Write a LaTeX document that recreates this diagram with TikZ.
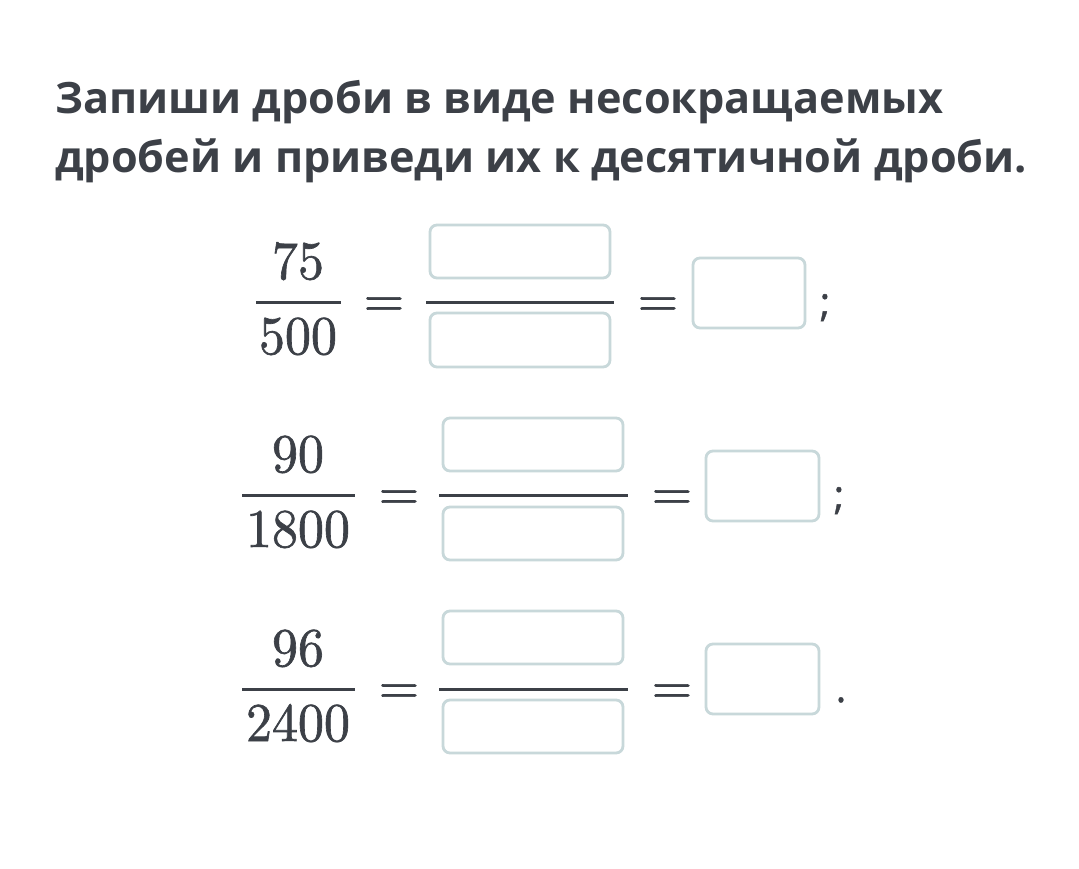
\documentclass[tikz,border=0pt]{standalone}
\usepackage{fontspec}
\setmainfont{Open Sans}
\newfontfamily\titlefont{Open Sans}
\newfontfamily\digitfont[Extension=.otf,FakeBold=1.2]{lmroman10-regular}
\newfontfamily\punctfont[FakeBold=1.0]{Open Sans}
\definecolor{ink}{HTML}{3C4047}
\definecolor{boxline}{HTML}{C8D8DA}
\begin{document}
\begin{tikzpicture}[x=1pt,y=-1pt,
  title/.style={anchor=base west,inner sep=0pt,font=\titlefont\bfseries\fontsize{43.2}{50}\selectfont,text=ink},
  num/.style={anchor=base,inner sep=0pt,font=\digitfont\fontsize{52}{60}\selectfont,text=ink},
  ansbox/.style={draw=boxline,line width=2.8pt,rounded corners=7pt,fill=white},
  bar/.style={draw=ink,line width=3.2pt},
  punct/.style={anchor=base,inner sep=0pt,font=\punctfont\fontsize{40}{46}\selectfont,text=ink}]
\useasboundingbox[fill=white] (0,0) rectangle (1079,868);
\node[title] (t1) at (55,113) {Запиши дроби в виде несокращаемых};
\node[title] (t2) at (55,172) {дробей и приведи их к десятичной дроби.};
% row 1
\node[num] (n1) at (298,279) {\scalebox{1}[1.05]{75}};
\node[num] (d1) at (298,354) {\scalebox{1}[1.05]{500}};
\coordinate (b1l) at (256,302.5); \coordinate (b1r) at (341,302.5);
\draw[bar] (b1l) -- (b1r);
\node[num] (e1a) at (384,316.5) {=};
\draw[ansbox] (430,225) rectangle (610,278) coordinate (bn1);
\draw[ansbox] (430,313) rectangle (610,367) coordinate (bd1);
\coordinate (f1l) at (426,302.5); \coordinate (f1r) at (614,302.5);
\draw[bar] (f1l) -- (f1r);
\node[num] (e1b) at (658,316.5) {=};
\draw[ansbox] (693,258) rectangle (805,328) coordinate (a1);
\node[punct] (p1) at (825,316) {;};
% row 2
\node[num] (n2) at (298,472) {\scalebox{1}[1.05]{90}};
\node[num] (d2) at (298,547) {\scalebox{1}[1.05]{1800}};
\coordinate (b2l) at (242,495.5); \coordinate (b2r) at (355,495.5);
\draw[bar] (b2l) -- (b2r);
\node[num] (e2a) at (399,509.5) {=};
\draw[ansbox] (443,418) rectangle (623,471) coordinate (bn2);
\draw[ansbox] (443,507) rectangle (623,560) coordinate (bd2);
\coordinate (f2l) at (439,495.5); \coordinate (f2r) at (628,495.5);
\draw[bar] (f2l) -- (f2r);
\node[num] (e2b) at (672,509.5) {=};
\draw[ansbox] (706,451) rectangle (819,521) coordinate (a2);
\node[punct] (p2) at (839,509) {;};
% row 3
\node[num] (n3) at (298,666) {\scalebox{1}[1.05]{96}};
\node[num] (d3) at (298,741) {\scalebox{1}[1.05]{2400}};
\coordinate (b3l) at (242,689.5); \coordinate (b3r) at (355,689.5);
\draw[bar] (b3l) -- (b3r);
\node[num] (e3a) at (399,703.5) {=};
\draw[ansbox] (443,611) rectangle (623,664) coordinate (bn3);
\draw[ansbox] (443,700) rectangle (623,753) coordinate (bd3);
\coordinate (f3l) at (439,689.5); \coordinate (f3r) at (628,689.5);
\draw[bar] (f3l) -- (f3r);
\node[num] (e3b) at (672,703.5) {=};
\draw[ansbox] (706,644) rectangle (819,714) coordinate (a3);
\node[punct] (p3) at (841,702) {.};
\end{tikzpicture}
\end{document}
